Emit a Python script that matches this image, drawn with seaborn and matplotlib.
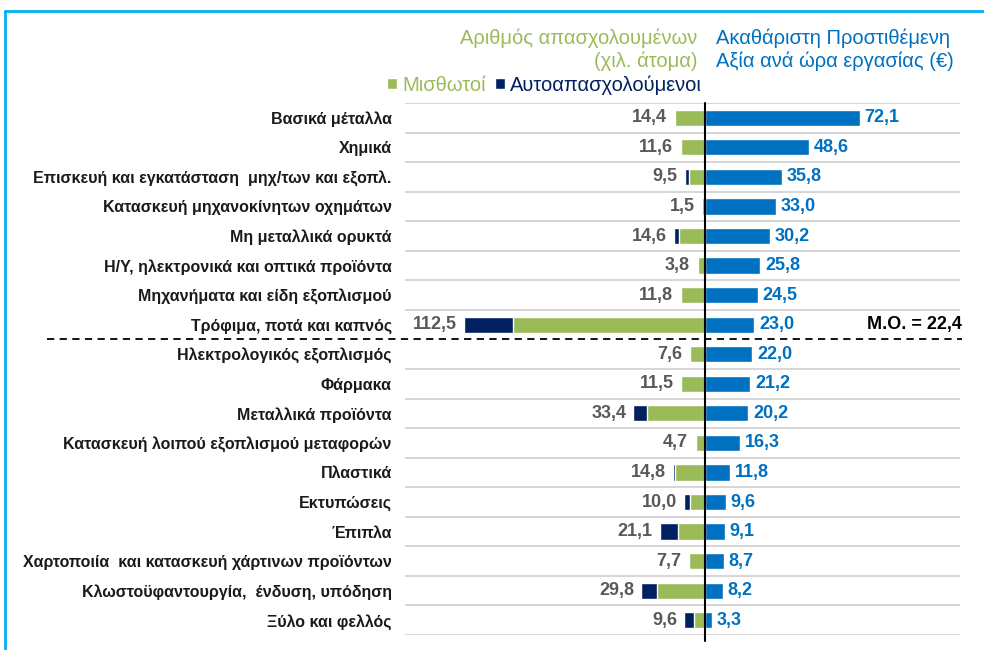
import matplotlib
matplotlib.use("Agg")
import matplotlib.pyplot as plt
import seaborn as sns
import pandas as pd
from matplotlib.lines import Line2D
from matplotlib.transforms import blended_transform_factory

categories = [
    "Βασικά μέταλλα",
    "Χημικά",
    "Επισκευή και εγκατάσταση  μηχ/των και εξοπλ.",
    "Κατασκευή μηχανοκίνητων οχημάτων",
    "Μη μεταλλικά ορυκτά",
    "Η/Υ, ηλεκτρονικά και οπτικά προϊόντα",
    "Μηχανήματα και είδη εξοπλισμού",
    "Τρόφιμα, ποτά και καπνός",
    "Ηλεκτρολογικός εξοπλισμός",
    "Φάρμακα",
    "Μεταλλικά προϊόντα",
    "Κατασκευή λοιπού εξοπλισμού μεταφορών",
    "Πλαστικά",
    "Εκτυπώσεις",
    "Έπιπλα",
    "Χαρτοποιία  και κατασκευή χάρτινων προϊόντων",
    "Κλωστοϋφαντουργία,  ένδυση, υπόδηση",
    "Ξύλο και φελλός",
]
total_employed = [14.4, 11.6, 9.5, 1.5, 14.6, 3.8, 11.8, 112.5, 7.6, 11.5,
                  33.4, 4.7, 14.8, 10.0, 21.1, 7.7, 29.8, 9.6]
self_employed = [0.6, 0.5, 1.9, 0.3, 2.5, 0.3, 0.7, 22.9, 0.4, 0.4,
                 6.2, 0.4, 0.6, 3.1, 8.4, 0.4, 7.6, 4.5]
gva_per_hour = [72.1, 48.6, 35.8, 33.0, 30.2, 25.8, 24.5, 23.0, 22.0, 21.2,
                20.2, 16.3, 11.8, 9.6, 9.1, 8.7, 8.2, 3.3]
average_label = "M.O. = 22,4"

GREEN = "#9BBB59"
NAVY = "#002060"
BLUE = "#0070C0"
GRAY = "#595959"
FONT = ["Liberation Sans", "DejaVu Sans"]

sns.set_theme(style="white")
plt.rcParams["font.family"] = FONT

df = pd.DataFrame({
    "cat": categories,
    "total": total_employed,
    "self": self_employed,
    "gva": gva_per_hour,
})
df["salaried"] = df["total"] - df["self"]
df["neg_total"] = -df["total"]
df["neg_sal"] = -df["salaried"]

fig = plt.figure(figsize=(9.84, 6.5), dpi=100)
ax = fig.add_axes([405 / 984, 1 - 635 / 650, 555 / 984, 532 / 650])

W = 0.55
sns.barplot(data=df, x="neg_total", y="cat", orient="h", color=NAVY,
            width=W, ax=ax, label="Αυτοαπασχολούμενοι", saturation=1)
sns.barplot(data=df, x="neg_sal", y="cat", orient="h", color=GREEN,
            width=W, ax=ax, label="Μισθωτοί", saturation=1)
sns.barplot(data=df, x="gva", y="cat", orient="h", color=BLUE,
            width=W, ax=ax, saturation=1)
if ax.get_legend() is not None:
    ax.get_legend().remove()

ax.set_xlim(-140, 119)
ax.set_ylim(len(categories) - 0.5, -0.5)
ax.set_xlabel("")
ax.set_ylabel("")
ax.set_xticks([])
for s in ax.spines.values():
    s.set_visible(False)
ax.tick_params(axis="y", length=0, pad=9.5)
for lbl in ax.get_yticklabels():
    lbl.set_fontsize(11.5)
    lbl.set_fontweight("bold")
    lbl.set_color("#1A1A1A")

# grid lines
n = len(categories)
for i in range(n + 1):
    yv = i - 0.5
    if i == 8:
        continue
    ax.axhline(yv, color="#D0D0D0", lw=1.2, zorder=0)
tr = blended_transform_factory(fig.transFigure, ax.transData)
fig.add_artist(Line2D([47 / 984, 962 / 984], [7.5, 7.5], transform=tr,
                      color="black", lw=1.3, ls=(0, (4, 3))))

# center line
ax.plot([0, 0], [-0.5, n - 0.3], color="black", lw=1.5, clip_on=False, zorder=5)

# value labels
VS = 13
for i, row in df.iterrows():
    ax.annotate(f"{row['total']:.1f}".replace(".", ","), (row["neg_total"], i),
                xytext=(-5, 0), textcoords="offset points", ha="right", va="center",
                fontsize=VS, fontweight="bold", color=GRAY)
    ax.annotate(f"{row['gva']:.1f}".replace(".", ","), (row["gva"], i),
                xytext=(3.5, 0), textcoords="offset points", ha="left", va="center",
                fontsize=VS, fontweight="bold", color=BLUE)

ax.text(962 / 984, 7, average_label, transform=tr, ha="right", va="center",
        fontsize=VS, fontweight="bold", color="black")

# headers
HS = 14.5
fig.text(697 / 984, 1 - 38 / 650, "Αριθμός απασχολουμένων", ha="right", va="center",
         fontsize=HS, color=GREEN)
fig.text(697 / 984, 1 - 61 / 650, "(χιλ. άτομα)", ha="right", va="center",
         fontsize=HS, color=GREEN)
fig.text(716 / 984, 1 - 38 / 650, "Ακαθάριστη Προστιθέμενη", ha="left", va="center",
         fontsize=HS, color=BLUE)
fig.text(716 / 984, 1 - 61 / 650, "Αξία ανά ώρα εργασίας (€)", ha="left", va="center",
         fontsize=HS, color=BLUE)

# legend
h, l = ax.get_legend_handles_labels()
hd = dict(zip(l, h))
order = ["Μισθωτοί", "Αυτοαπασχολούμενοι"]
leg = fig.legend([hd[k] for k in order], order, loc="center right",
                 bbox_to_anchor=(702 / 984, 1 - 85 / 650), ncol=2, frameon=False,
                 fontsize=HS, handlelength=0.5, handleheight=0.5,
                 handletextpad=0.25, columnspacing=0.45, borderpad=0, borderaxespad=0)
for txt, c in zip(leg.get_texts(), [GREEN, NAVY]):
    txt.set_color(c)

# frame
fig.add_artist(Line2D([5 / 984, 1], [1 - 11 / 650, 1 - 11 / 650],
                      transform=fig.transFigure, color="#00B0F0", lw=2))
fig.add_artist(Line2D([5 / 984, 5 / 984], [0, 1 - 11 / 650],
                      transform=fig.transFigure, color="#00B0F0", lw=2))

fig.savefig("out.png", dpi=100)
